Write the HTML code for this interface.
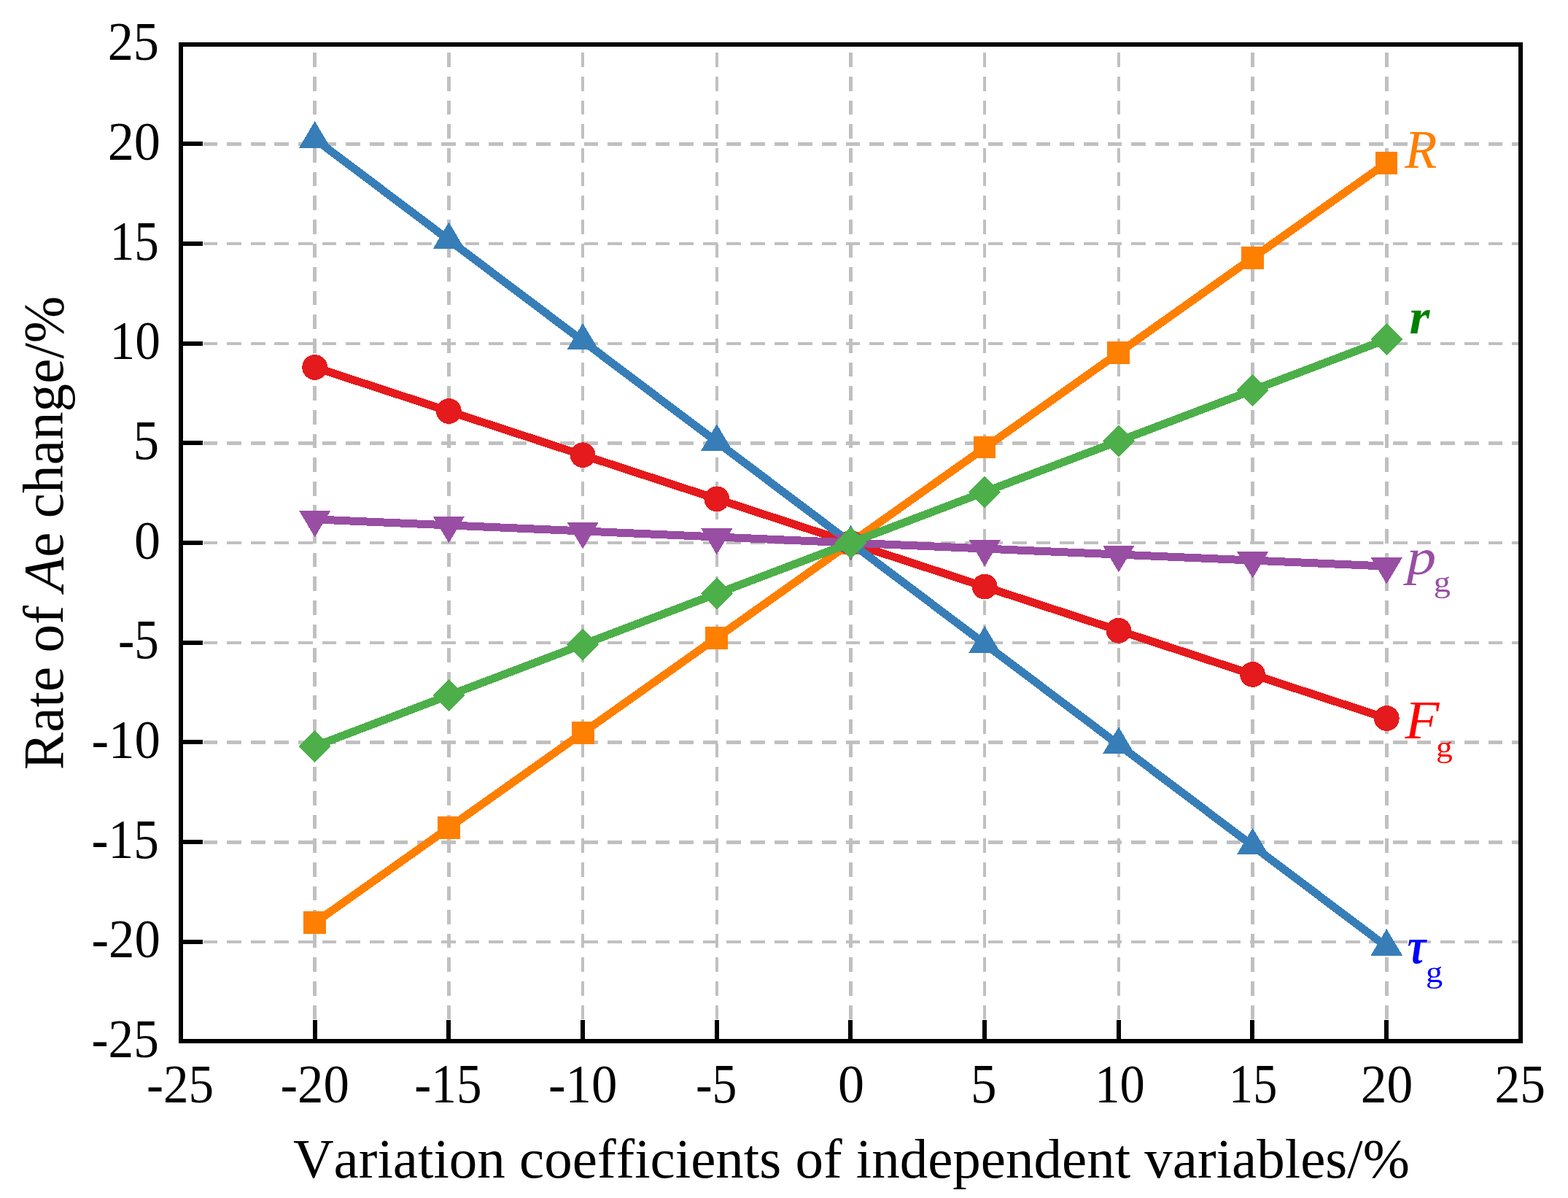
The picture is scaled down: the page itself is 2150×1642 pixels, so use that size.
<!DOCTYPE html>
<html lang="en"><head><meta charset="utf-8">
<title>Rate of Ae change versus variation coefficients of independent variables</title>
<style>
html,body{margin:0;padding:0;background:#fff;}
body{width:2150px;height:1642px;overflow:hidden;}
svg{display:block;}
text{font-family:"Liberation Serif","Times New Roman",Times,serif;fill:#000;font-kerning:none;font-variant-ligatures:none;}
.it{font-style:italic;}
.bi{font-style:italic;font-weight:bold;}
.b{font-weight:bold;}
</style></head><body>
<svg width="2150" height="1642" viewBox="0 0 2150 1642" role="img" aria-label="Line chart: rate of Ae change versus variation coefficients of independent variables">
<rect x="0" y="0" width="2150" height="1642" fill="#ffffff"/>
<g stroke="#c0c0c0" fill="none" stroke-dasharray="19.7 12.93" shape-rendering="crispEdges">
<line x1="245.95" y1="197.5" x2="2085" y2="197.5" stroke-width="5"/>
<line x1="245.95" y1="334.0" x2="2085" y2="334.0" stroke-width="4"/>
<line x1="245.95" y1="471.0" x2="2085" y2="471.0" stroke-width="4"/>
<line x1="245.95" y1="607.5" x2="2085" y2="607.5" stroke-width="5"/>
<line x1="245.95" y1="744.0" x2="2085" y2="744.0" stroke-width="4"/>
<line x1="245.95" y1="881.0" x2="2085" y2="881.0" stroke-width="4"/>
<line x1="245.95" y1="1017.5" x2="2085" y2="1017.5" stroke-width="5"/>
<line x1="245.95" y1="1154.5" x2="2085" y2="1154.5" stroke-width="5"/>
<line x1="245.95" y1="1291.0" x2="2085" y2="1291.0" stroke-width="4"/>
<line x1="431.5" y1="1430.0" x2="431.5" y2="61" stroke-width="5"/>
<line x1="615.5" y1="1430.0" x2="615.5" y2="61" stroke-width="5"/>
<line x1="799.0" y1="1430.0" x2="799.0" y2="61" stroke-width="4"/>
<line x1="983.0" y1="1430.0" x2="983.0" y2="61" stroke-width="4"/>
<line x1="1166.5" y1="1430.0" x2="1166.5" y2="61" stroke-width="5"/>
<line x1="1350.0" y1="1430.0" x2="1350.0" y2="61" stroke-width="4"/>
<line x1="1534.0" y1="1430.0" x2="1534.0" y2="61" stroke-width="4"/>
<line x1="1717.5" y1="1430.0" x2="1717.5" y2="61" stroke-width="5"/>
<line x1="1901.5" y1="1430.0" x2="1901.5" y2="61" stroke-width="5"/>
</g>
<g fill="none" stroke-linejoin="round" stroke-linecap="butt" shape-rendering="crispEdges">
<polyline points="431.70,1264.73 615.40,1134.55 799.10,1004.37 982.80,874.18 1166.50,744.00 1350.20,613.82 1533.90,483.63 1717.60,353.45 1901.30,223.27" stroke="#ff7f00" stroke-width="11"/>
<rect x="416" y="1249" width="31" height="31" fill="#ff7f00"/>
<rect x="600" y="1119" width="31" height="31" fill="#ff7f00"/>
<rect x="784" y="989" width="31" height="31" fill="#ff7f00"/>
<rect x="967" y="859" width="31" height="31" fill="#ff7f00"/>
<rect x="1151" y="729" width="31" height="31" fill="#ff7f00"/>
<rect x="1335" y="598" width="30" height="30" fill="#ff7f00"/>
<rect x="1518" y="468" width="31" height="31" fill="#ff7f00"/>
<rect x="1702" y="338" width="31" height="31" fill="#ff7f00"/>
<rect x="1886" y="208" width="30" height="31" fill="#ff7f00"/>
<polyline points="431.70,503.45 615.40,563.59 799.10,623.73 982.80,683.86 1166.50,744.00 1350.20,804.14 1533.90,864.27 1717.60,924.41 1901.30,984.55" stroke="#e41a1c" stroke-width="11"/>
<circle cx="431.70" cy="503.45" r="17.4" fill="#e41a1c"/>
<circle cx="615.40" cy="563.59" r="17.4" fill="#e41a1c"/>
<circle cx="799.10" cy="623.73" r="17.4" fill="#e41a1c"/>
<circle cx="982.80" cy="683.86" r="17.4" fill="#e41a1c"/>
<circle cx="1166.50" cy="744.00" r="17.4" fill="#e41a1c"/>
<circle cx="1350.20" cy="804.14" r="17.4" fill="#e41a1c"/>
<circle cx="1533.90" cy="864.27" r="17.4" fill="#e41a1c"/>
<circle cx="1717.60" cy="924.41" r="17.4" fill="#e41a1c"/>
<circle cx="1901.30" cy="984.55" r="17.4" fill="#e41a1c"/>
<polyline points="431.70,190.47 615.40,328.85 799.10,467.23 982.80,605.62 1166.50,744.00 1350.20,882.38 1533.90,1020.77 1717.60,1159.15 1901.30,1297.53" stroke="#377eb8" stroke-width="11"/>
<polygon points="431.70,166.07 453.45,202.67 409.95,202.67" fill="#377eb8"/>
<polygon points="615.40,304.45 637.15,341.05 593.65,341.05" fill="#377eb8"/>
<polygon points="799.10,442.83 820.85,479.43 777.35,479.43" fill="#377eb8"/>
<polygon points="982.80,581.22 1004.55,617.82 961.05,617.82" fill="#377eb8"/>
<polygon points="1166.50,719.60 1188.25,756.20 1144.75,756.20" fill="#377eb8"/>
<polygon points="1350.20,857.98 1371.95,894.58 1328.45,894.58" fill="#377eb8"/>
<polygon points="1533.90,996.37 1555.65,1032.97 1512.15,1032.97" fill="#377eb8"/>
<polygon points="1717.60,1134.75 1739.35,1171.35 1695.85,1171.35" fill="#377eb8"/>
<polygon points="1901.30,1273.13 1923.05,1309.73 1879.55,1309.73" fill="#377eb8"/>
<polyline points="431.70,711.88 615.40,719.91 799.10,727.94 982.80,735.97 1166.50,744.00 1350.20,752.03 1533.90,760.06 1717.60,768.09 1901.30,776.12" stroke="#984ea3" stroke-width="11"/>
<polygon points="409.95,699.68 453.45,699.68 431.70,736.28" fill="#984ea3"/>
<polygon points="593.65,707.71 637.15,707.71 615.40,744.31" fill="#984ea3"/>
<polygon points="777.35,715.74 820.85,715.74 799.10,752.34" fill="#984ea3"/>
<polygon points="961.05,723.77 1004.55,723.77 982.80,760.37" fill="#984ea3"/>
<polygon points="1144.75,731.80 1188.25,731.80 1166.50,768.40" fill="#984ea3"/>
<polygon points="1328.45,739.83 1371.95,739.83 1350.20,776.43" fill="#984ea3"/>
<polygon points="1512.15,747.86 1555.65,747.86 1533.90,784.46" fill="#984ea3"/>
<polygon points="1695.85,755.89 1739.35,755.89 1717.60,792.49" fill="#984ea3"/>
<polygon points="1879.55,763.92 1923.05,763.92 1901.30,800.52" fill="#984ea3"/>
<polyline points="431.70,1022.82 615.40,953.11 799.10,883.41 982.80,813.70 1166.50,744.00 1350.20,674.30 1533.90,604.59 1717.60,534.89 1901.30,465.18" stroke="#4daf4a" stroke-width="11"/>
<polygon points="431.70,1000.82 453.70,1022.82 431.70,1044.82 409.70,1022.82" fill="#4daf4a"/>
<polygon points="615.40,931.11 637.40,953.11 615.40,975.11 593.40,953.11" fill="#4daf4a"/>
<polygon points="799.10,861.41 821.10,883.41 799.10,905.41 777.10,883.41" fill="#4daf4a"/>
<polygon points="982.80,791.70 1004.80,813.70 982.80,835.70 960.80,813.70" fill="#4daf4a"/>
<polygon points="1166.50,722.00 1188.50,744.00 1166.50,766.00 1144.50,744.00" fill="#4daf4a"/>
<polygon points="1350.20,652.30 1372.20,674.30 1350.20,696.30 1328.20,674.30" fill="#4daf4a"/>
<polygon points="1533.90,582.59 1555.90,604.59 1533.90,626.59 1511.90,604.59" fill="#4daf4a"/>
<polygon points="1717.60,512.89 1739.60,534.89 1717.60,556.89 1695.60,534.89" fill="#4daf4a"/>
<polygon points="1901.30,443.18 1923.30,465.18 1901.30,487.18 1879.30,465.18" fill="#4daf4a"/>
</g>
<g stroke="#000" stroke-width="6" fill="none" shape-rendering="crispEdges">
<rect x="248" y="61" width="1837" height="1366"/>
<line x1="248" y1="197" x2="278" y2="197"/>
<line x1="248" y1="334" x2="278" y2="334"/>
<line x1="248" y1="471" x2="278" y2="471"/>
<line x1="248" y1="607" x2="278" y2="607"/>
<line x1="248" y1="744" x2="278" y2="744"/>
<line x1="248" y1="881" x2="278" y2="881"/>
<line x1="248" y1="1017" x2="278" y2="1017"/>
<line x1="248" y1="1154" x2="278" y2="1154"/>
<line x1="248" y1="1291" x2="278" y2="1291"/>
<line x1="432" y1="1427" x2="432" y2="1398"/>
<line x1="615" y1="1427" x2="615" y2="1398"/>
<line x1="799" y1="1427" x2="799" y2="1398"/>
<line x1="983" y1="1427" x2="983" y2="1398"/>
<line x1="1166" y1="1427" x2="1166" y2="1398"/>
<line x1="1350" y1="1427" x2="1350" y2="1398"/>
<line x1="1534" y1="1427" x2="1534" y2="1398"/>
<line x1="1717" y1="1427" x2="1717" y2="1398"/>
<line x1="1901" y1="1427" x2="1901" y2="1398"/>
</g>
<g>
<text transform="translate(147.74,82.18) scale(0.9398,1)" font-size="74.78">25</text>
<text transform="translate(147.64,218.86) scale(0.9762,1)" font-size="74.22">20</text>
<text transform="translate(150.76,355.52) scale(0.8910,1)" font-size="75.34">15</text>
<text transform="translate(150.55,492.21) scale(0.9354,1)" font-size="74.22">10</text>
<text transform="translate(182.42,628.87) scale(0.9457,1)" font-size="75.34">5</text>
<text transform="translate(184.01,765.56) scale(0.9720,1)" font-size="74.22">0</text>
<text transform="translate(161.96,902.22) scale(0.8890,1)" font-size="75.34">-5</text>
<text transform="translate(125.52,1038.91) scale(0.9538,1)" font-size="74.22">-10</text>
<text transform="translate(125.58,1175.57) scale(0.9186,1)" font-size="75.34">-15</text>
<text transform="translate(125.52,1312.26) scale(0.9538,1)" font-size="74.22">-20</text>
<text transform="translate(125.58,1448.93) scale(0.9255,1)" font-size="74.78">-25</text>
</g>
<g>
<text transform="translate(200.88,1511.25) scale(0.9255,1)" font-size="74.78">-25</text>
<text transform="translate(384.52,1511.26) scale(0.9538,1)" font-size="74.22">-20</text>
<text transform="translate(568.28,1511.25) scale(0.9186,1)" font-size="75.34">-15</text>
<text transform="translate(751.92,1511.26) scale(0.9538,1)" font-size="74.22">-10</text>
<text transform="translate(953.88,1511.25) scale(0.9003,1)" font-size="75.34">-5</text>
<text transform="translate(1149.01,1511.26) scale(0.9720,1)" font-size="74.22">0</text>
<text transform="translate(1331.12,1511.25) scale(0.9457,1)" font-size="75.34">5</text>
<text transform="translate(1501.18,1511.26) scale(0.9238,1)" font-size="74.22">10</text>
<text transform="translate(1685.09,1511.25) scale(0.8796,1)" font-size="75.34">15</text>
<text transform="translate(1865.63,1511.26) scale(0.9652,1)" font-size="74.22">20</text>
<text transform="translate(2049.42,1511.25) scale(0.9288,1)" font-size="74.78">25</text>
</g>
<text x="402.0" y="1614" font-size="77.0">Variation coefficients of independent variables/%</text>
<text transform="translate(85.9,1055.2) rotate(-90)" font-size="77.2">Rate of <tspan class="it">A</tspan>e change/%</text>
<g>
<text class="it" transform="translate(1926.36,229.80) scale(0.9834,1)" font-size="73.38" style="fill:#ff7f00">R</text>
<text class="bi" transform="translate(1932.57,456.90) scale(1.0536,1)" font-size="68.09" style="fill:#008000">r</text>
<text class="it" transform="translate(1928.87,786.53) scale(1.1615,1)" font-size="69.85" style="fill:#984ea3">p</text>
<text transform="translate(1965.81,810.66) scale(1.1690,1)" font-size="39.72" style="fill:#984ea3">g</text>
<text class="it" transform="translate(1926.38,1012.47) scale(1.0357,1)" font-size="74.15" style="fill:#ff0000">F</text>
<text transform="translate(1968.94,1036.61) scale(1.1320,1)" font-size="40.41" style="fill:#ff0000">g</text>
<text class="bi" transform="translate(1929.84,1320.41) scale(0.8318,1)" font-size="69.46" style="fill:#0000ff">τ</text>
<text transform="translate(1954.91,1345.68) scale(1.1451,1)" font-size="40.55" style="fill:#0000ff">g</text>
</g>
</svg>
</body></html>
